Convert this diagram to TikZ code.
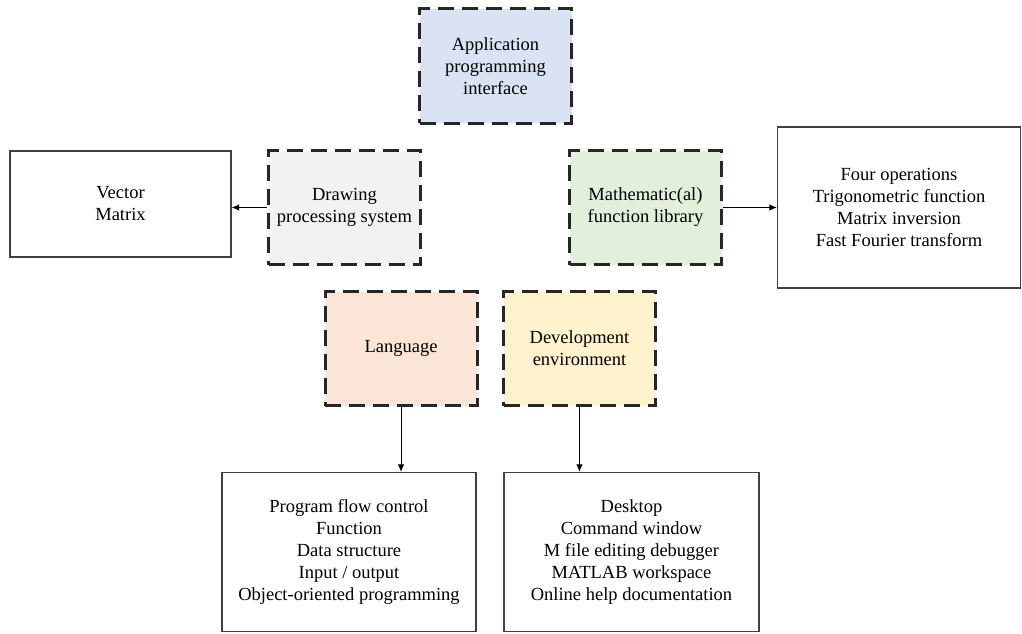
\documentclass[tikz,border=0pt]{standalone}
\usepackage{fontspec}
\setmainfont{Liberation Serif}
\usetikzlibrary{arrows.meta}
\definecolor{apiblue}{HTML}{DAE3F3}
\definecolor{drawgray}{HTML}{F2F2F2}
\definecolor{mathgreen}{HTML}{E2EFDA}
\definecolor{langorange}{HTML}{FBE5D6}
\definecolor{devyellow}{HTML}{FFF2CC}
\begin{document}
\begin{tikzpicture}[x=1pt,y=-1pt,
  every node/.style={font=\fontsize{18.5}{22}\selectfont, align=center, inner sep=0pt},
  module/.style={draw=black!85, line width=3pt, dash pattern=on 16pt off 8pt,
                 minimum width=152pt, minimum height=114pt},
  detail/.style={draw=black!75, line width=1.3pt},
  link/.style={draw=black, line width=1pt, -{Latex[length=7.5pt,width=6.5pt]}}]
  \useasboundingbox (0,0) rectangle (1022,634);

  % core modules (dashed)
  \node[module, fill=apiblue] (api) at (495.5,66) {Application\\programming\\interface};
  \node[module, fill=drawgray] (drw) at (344.5,207.5) {Drawing\\processing system};
  \node[module, fill=mathgreen] (mth) at (645.5,207.5) {Mathematic(al)\\function library};
  \node[module, fill=langorange] (lng) at (401,348.5) {Language};
  \node[module, fill=devyellow] (dev) at (579.5,348.5) {Development\\environment};

  % detail boxes (solid)
  \node[detail, minimum width=221pt, minimum height=106pt] (vec) at (120.5,204) {Vector\\Matrix};
  \node[detail, minimum width=243pt, minimum height=161pt] (ops) at (899,207.5)
    {Four operations\\Trigonometric function\\Matrix inversion\\Fast Fourier transform};
  \node[detail, minimum width=254pt, minimum height=159pt] (lngd) at (349,552)
    {Program flow control\\Function\\Data structure\\Input / output\\Object-oriented programming};
  \node[detail, minimum width=255pt, minimum height=159pt] (devd) at (631.5,552)
    {Desktop\\Command window\\M file editing debugger\\MATLAB workspace\\Online help documentation};

  % connectors
  \draw[link] (drw.west) -- (drw.west -| vec.east);
  \draw[link] (mth.east) -- (mth.east -| ops.west);
  \draw[link] (lng.south) -- (lng.south |- lngd.north);
  \draw[link] (dev.south) -- (dev.south |- devd.north);
\end{tikzpicture}
\end{document}
